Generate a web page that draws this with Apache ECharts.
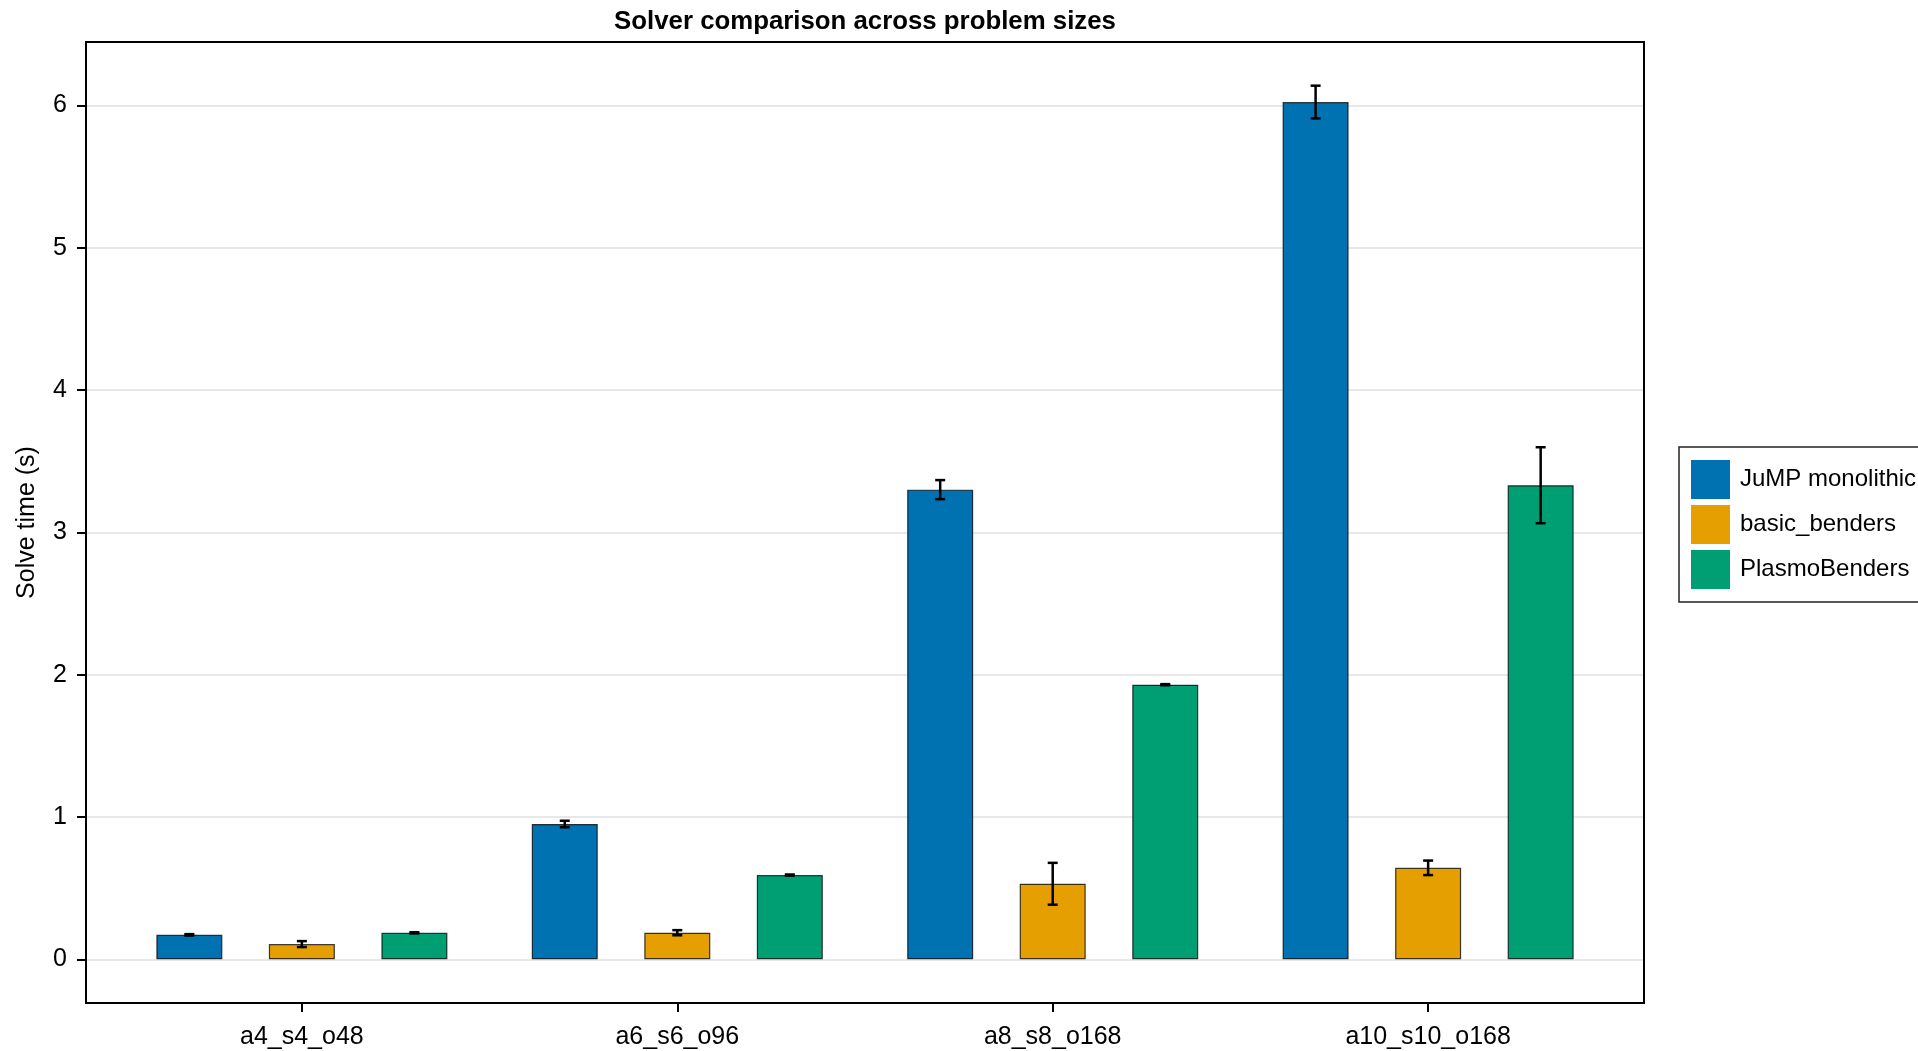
<!DOCTYPE html>
<html><head><meta charset="utf-8">
<script src="https://cdn.jsdelivr.net/npm/echarts@6/dist/echarts.min.js"></script>
<style>html,body{margin:0;padding:0;background:#fff}#c{width:1918px;height:1051px}</style>
</head><body><div id="c"></div>
<script>
// ---- data ----
const categories = ['a4_s4_o48', 'a6_s6_o96', 'a8_s8_o168', 'a10_s10_o168'];
const seriesNames = ['JuMP monolithic', 'basic_benders', 'PlasmoBenders'];
const jumpMean = [0.172, 0.951, 3.301, 6.025];
const jumpErr = [0.005, 0.023, 0.067, 0.115];
const basicMean = [0.107, 0.187, 0.531, 0.643];
const basicErr = [0.021, 0.018, 0.147, 0.051];
const plasmoMean = [0.186, 0.592, 1.930, 3.332];
const plasmoErr = [0.004, 0.004, 0.004, 0.267];
const yTicks = [0, 1, 2, 3, 4, 5, 6];
const xTicks = [1, 2, 3, 4];

// ---- style ----
const colors = ['#0072B2', '#E69F00', '#009E73'];
const FONT = '"Liberation Sans", Arial, Helvetica, sans-serif';
const BAR_WIDTH = 66;
const BAR_GAP = 0.705;
const X_MIN = 0.425, X_MAX = 4.575;

const means = [jumpMean, basicMean, plasmoMean];
const errs = [jumpErr, basicErr, plasmoErr];

let dataTop = 0;
means.forEach((m, i) => m.forEach((v, j) => { dataTop = Math.max(dataTop, v + errs[i][j]); }));
const yPad = dataTop * 0.05;
const Y_MIN = -yPad, Y_MAX = dataTop + yPad;

const chart = echarts.init(document.getElementById('c'), null, { renderer: 'canvas' });

const series = [];
seriesNames.forEach((name, i) => {
  series.push({
    name: name,
    type: 'bar',
    barWidth: BAR_WIDTH,
    barGap: (BAR_GAP * 100) + '%',
    itemStyle: { color: colors[i], borderColor: 'rgba(0,0,0,0.75)', borderWidth: 1.2 },
    emphasis: { disabled: true },
    data: means[i].map((v, j) => [xTicks[j], v]),
    z: 2
  });
});
seriesNames.forEach((name, i) => {
  series.push({
    name: name + ' err',
    type: 'custom',
    clip: false,
    z: 5,
    encode: { x: 0, y: 1 },
    data: means[i].map((v, j) => [xTicks[j], v, errs[i][j]]),
    renderItem: function (params, api) {
      const x = api.value(0), m = api.value(1), e = api.value(2);
      const off = (i - 1) * BAR_WIDTH * (1 + BAR_GAP);
      const lo = api.coord([x, m - e]);
      const hi = api.coord([x, m + e]);
      const cx = lo[0] + off;
      const hw = 5;
      const st = { stroke: '#000', lineWidth: 2.5 };
      return {
        type: 'group',
        children: [
          { type: 'line', shape: { x1: cx, y1: lo[1], x2: cx, y2: hi[1] }, style: st },
          { type: 'line', shape: { x1: cx - hw, y1: lo[1], x2: cx + hw, y2: lo[1] }, style: st },
          { type: 'line', shape: { x1: cx - hw, y1: hi[1], x2: cx + hw, y2: hi[1] }, style: st }
        ]
      };
    }
  });
});

chart.setOption({
  animation: false,
  backgroundColor: '#fff',
  title: {
    text: 'Solver comparison across problem sizes',
    left: 865, top: 9, padding: 0, textAlign: 'center',
    textStyle: { fontFamily: FONT, fontWeight: 'bold', fontSize: 25.8, color: '#000' }
  },
  legend: {
    data: seriesNames,
    orient: 'vertical',
    left: 1679, top: 447,
    padding: [13, 14, 13, 12],
    itemWidth: 39, itemHeight: 39, itemGap: 6,
    icon: 'rect',
    itemStyle: { borderWidth: 0 },
    backgroundColor: '#fff',
    borderColor: '#222', borderWidth: 1.5,
    textStyle: { fontFamily: FONT, fontSize: 24, color: '#000', padding: [3, 0, 0, 5] },
    selectedMode: false
  },
  grid: {
    left: 86, top: 42, width: 1558, height: 961,
    show: true, borderColor: '#000', borderWidth: 2, backgroundColor: 'transparent'
  },
  xAxis: {
    type: 'value', min: X_MIN, max: X_MAX,
    axisLine: { show: false, onZero: false },
    splitLine: { show: false },
    axisTick: { show: true, length: 9, lineStyle: { color: '#000', width: 2 }, customValues: xTicks },
    axisLabel: {
      customValues: xTicks, margin: 22,
      fontFamily: FONT, fontSize: 25, color: '#000',
      formatter: v => categories[Math.round(v) - 1] || ''
    }
  },
  yAxis: {
    type: 'value', min: Y_MIN, max: Y_MAX,
    name: 'Solve time (s)', nameLocation: 'middle', nameRotate: 90, nameGap: 46,
    nameTextStyle: { fontFamily: FONT, fontSize: 25, color: '#000' },
    axisLine: { show: false, onZero: false },
    axisTick: { show: true, length: 9, lineStyle: { color: '#000', width: 2 }, customValues: yTicks },
    axisLabel: { customValues: yTicks, margin: 19, fontFamily: FONT, fontSize: 25, color: '#000' },
    splitLine: { show: true, lineStyle: { color: 'rgba(0,0,0,0.12)', width: 1.5 } }
  },
  series: series
});
</script>
</body></html>
